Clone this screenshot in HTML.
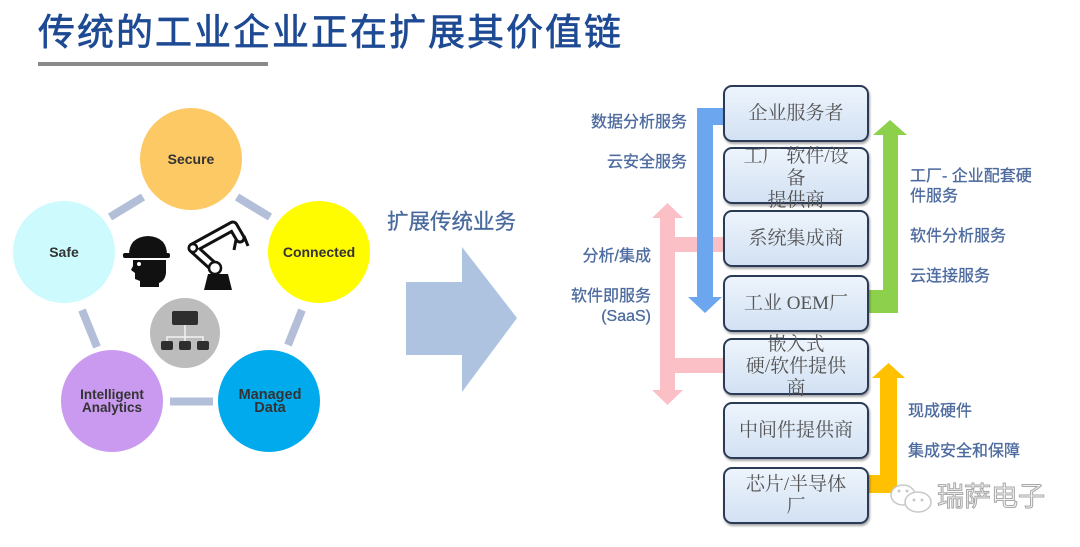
<!DOCTYPE html>
<html><head><meta charset="utf-8">
<style>
html,body{margin:0;padding:0;background:#fff;}
#c{position:relative;width:1080px;height:547px;overflow:hidden;background:#fff;font-family:"Liberation Sans","Noto Sans CJK SC",sans-serif;}
svg{position:absolute;left:0;top:0;}
.t{position:absolute;white-space:nowrap;}
.title{left:38px;top:14px;font-size:37px;line-height:38px;letter-spacing:2px;color:#1e4a94;-webkit-text-stroke:0.7px #1e4a94;font-family:"Liberation Sans","Noto Sans CJK SC",sans-serif;}
.lbl{font-size:16px;line-height:20px;color:#4d6b9f;-webkit-text-stroke:0.3px #4d6b9f;font-family:"Liberation Sans","Noto Sans CJK SC",sans-serif;}
.r{text-align:right;}
.box{position:absolute;left:723px;width:146px;height:57px;box-sizing:border-box;border:2px solid #2b3b55;border-radius:9px;background:linear-gradient(#edf4fc,#d2e1f3);box-shadow:1px 2px 2px rgba(0,0,0,.35);display:flex;align-items:center;justify-content:center;text-align:center;font-family:"Liberation Serif","Noto Serif CJK SC",serif;font-size:19px;line-height:22px;color:#555;white-space:nowrap;}
</style></head>
<body><div id="c">
<svg width="1080" height="547" viewBox="0 0 1080 547">
  <rect x="38" y="62" width="230" height="4" fill="#8a8a8a"/>
  <g stroke="#b3bfd8" stroke-width="8">
    <line x1="110" y1="217" x2="143" y2="197"/>
    <line x1="237" y1="197" x2="270" y2="217"/>
    <line x1="82" y1="310" x2="97" y2="347"/>
    <line x1="302" y1="310" x2="288" y2="345"/>
    <line x1="170" y1="401.5" x2="213" y2="401.5"/>
  </g>
  <circle cx="191" cy="159" r="51" fill="#fdc964"/>
  <circle cx="64" cy="252" r="51" fill="#cdfbfd"/>
  <circle cx="319" cy="252" r="51" fill="#fffc00"/>
  <circle cx="112" cy="401" r="51" fill="#c99af0"/>
  <circle cx="269" cy="401" r="51" fill="#00aaec"/>
  <g font-family="Liberation Sans, sans-serif" font-weight="bold" font-size="14" fill="#333" text-anchor="middle">
    <text x="191" y="164">Secure</text>
    <text x="64" y="257">Safe</text>
    <text x="319" y="257">Connected</text>
    <text x="112" y="399" font-size="13.5">Intelligent</text>
    <text x="112" y="412" font-size="13.5">Analytics</text>
    <text x="270" y="399" font-size="14.5">Managed</text>
    <text x="270" y="412" font-size="14.5">Data</text>
  </g>
  <path d="M129,255 Q129,237 148,236 Q167,237 167,255 Z" fill="#111"/>
  <rect x="123" y="253" width="47" height="5" rx="2" fill="#111"/>
  <path d="M133,260 L166,260 L166,273 Q165,281 159,283 L159,287 L140,287 L140,281 L135,279 L135,273 L131,270 L133,266 Z" fill="#111"/>
  <circle cx="139" cy="264" r="2" fill="#fff"/>
  <path d="M204,290 L208,274 L228,274 L232,290 Z" fill="#111"/>
  <g fill="none" stroke-linecap="round" stroke-linejoin="round">
    <polyline points="215,268 193,248 233,226 240,238" stroke="#111" stroke-width="11"/>
    <polyline points="215,268 193,248 233,226 240,238" stroke="#fff" stroke-width="5"/>
  </g>
  <circle cx="215" cy="268" r="6" fill="#fff" stroke="#111" stroke-width="2.5"/>
  <circle cx="193" cy="248" r="4" fill="#fff" stroke="#111" stroke-width="2.5"/>
  <path d="M236,240 L234,250 M244,236 L248,246" stroke="#111" stroke-width="3" fill="none"/>
  <circle cx="185" cy="333" r="35" fill="#bcbcbc"/>
  <rect x="172" y="311" width="26" height="14" rx="2" fill="#2e2e2e"/>
  <g stroke="#f2f2f2" stroke-width="1.5" fill="none">
    <line x1="185" y1="325" x2="185" y2="342"/>
    <polyline points="167,342 167,337 203,337 203,342"/>
  </g>
  <rect x="161" y="341" width="12" height="9" rx="2" fill="#2e2e2e"/>
  <rect x="179" y="341" width="12" height="9" rx="2" fill="#2e2e2e"/>
  <rect x="197" y="341" width="12" height="9" rx="2" fill="#2e2e2e"/>
  <polygon points="406,282 462,282 462,247 517,318 462,392 462,355 406,355" fill="#adc3e0"/>
  <g fill="#fbc0c5">
    <rect x="660" y="216" width="15" height="176"/>
    <polygon points="652,218 667.5,203 683,218"/>
    <polygon points="652,390 667.5,405 683,390"/>
    <rect x="675" y="237" width="50" height="15"/>
    <rect x="675" y="358" width="50" height="15"/>
  </g>
  <g fill="#6ba6ef">
    <rect x="697" y="108" width="28" height="17"/>
    <rect x="697" y="108" width="16" height="190"/>
    <polygon points="688,297 722,297 705,313"/>
  </g>
  <g fill="#8dd04b">
    <rect x="866" y="290" width="32" height="23"/>
    <rect x="883" y="134" width="15" height="179"/>
    <polygon points="873,135 907,135 890,120"/>
  </g>
  <g fill="#ffc000">
    <rect x="866" y="475" width="31" height="18"/>
    <rect x="880" y="377" width="17" height="116"/>
    <polygon points="872,378 905,378 888.5,363"/>
  </g>
  <g fill="#fff" stroke="#c8c8c8" stroke-width="1.5">
    <ellipse cx="903" cy="495" rx="12" ry="10"/>
    <ellipse cx="918" cy="502" rx="13" ry="10"/>
  </g>
  <g fill="#c8c8c8">
    <circle cx="899" cy="491" r="1.5"/><circle cx="907" cy="491" r="1.5"/>
    <circle cx="914" cy="500" r="1.5"/><circle cx="922" cy="500" r="1.5"/>
  </g>
</svg>

<div class="t title">传统的工业企业正在扩展其价值链</div>
<div class="t" style="left:387px;top:209px;font-size:21.5px;line-height:26px;color:#4a6a9e;-webkit-text-stroke:0.3px #4a6a9e;">扩展传统业务</div>

<div class="t lbl r" style="right:393px;top:113px;">数据分析服务</div>
<div class="t lbl r" style="right:393px;top:153px;">云安全服务</div>
<div class="t lbl r" style="right:429px;top:247px;">分析/集成</div>
<div class="t lbl r" style="right:429px;top:287px;">软件即服务</div>
<div class="t lbl r" style="right:429px;top:307px;">(SaaS)</div>

<div class="t lbl" style="left:910px;top:167px;">工厂- 企业配套硬<br>件服务</div>
<div class="t lbl" style="left:910px;top:227px;">软件分析服务</div>
<div class="t lbl" style="left:910px;top:267px;">云连接服务</div>
<div class="t lbl" style="left:908px;top:402px;">现成硬件</div>
<div class="t lbl" style="left:908px;top:442px;">集成安全和保障</div>

<div class="box" style="top:85px;">企业服务者</div>
<div class="box" style="top:147px;"><div style="margin-top:6px;">工厂 软件/设<br>备<br>提供商</div></div>
<div class="box" style="top:210px;">系统集成商</div>
<div class="box" style="top:275px;">工业 OEM厂</div>
<div class="box" style="top:338px;"><div>嵌入式<br>硬/软件提供<br>商</div></div>
<div class="box" style="top:402px;">中间件提供商</div>
<div class="box" style="top:467px;"><div>芯片/半导体<br>厂</div></div>

<div class="t" style="left:937px;top:481px;font-size:27px;line-height:32px;color:#f4f4f4;-webkit-text-stroke:1px #a8a8a8;font-family:'Liberation Sans','Noto Sans CJK SC',sans-serif;">瑞萨电子</div>
</div></body></html>
